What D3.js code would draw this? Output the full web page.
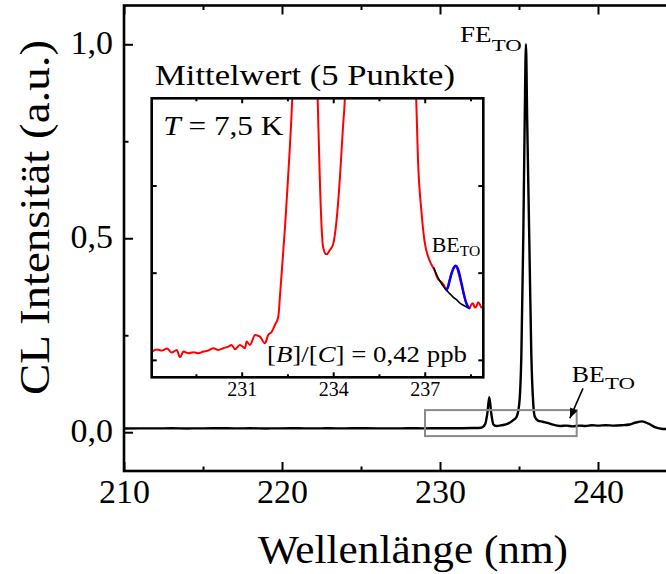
<!DOCTYPE html>
<html>
<head>
<meta charset="utf-8">
<script src="https://cdn.jsdelivr.net/npm/d3@7"></script>
<style>
  body { margin: 0; background: #fff; }
  svg { display: block; }
  text { font-family: "Liberation Serif", "Times New Roman", serif; fill: #000; }
</style>
</head>
<body>
<svg id="chart" width="666" height="574"></svg>
<script>
// ---- CL spectrum (normalised to the FE_TO line) ----
const spectrumNm = [210, 211, 212, 213, 214, 215, 216, 217, 218, 219, 220, 221, 222, 223, 224, 225,
  226, 227, 228, 229, 230, 231, 232, 232.6, 232.85, 233.0, 233.12, 233.24, 233.38, 233.55, 233.9,
  234.3, 234.6, 234.85, 235.02, 235.15, 235.27, 235.36, 235.44, 235.52, 235.65, 235.78, 235.9,
  236.0, 236.2, 236.5, 236.8, 237.1, 237.6, 238.0, 238.4, 238.8, 239.2, 239.6, 240.0, 240.5,
  241.0, 241.5, 242.0, 242.4, 242.8, 243.2, 243.6, 244.0, 244.5, 245.0];
const spectrumIntensity = [0.0095, 0.0100, 0.0098, 0.0102, 0.0097, 0.0100, 0.0103, 0.0099, 0.0101,
  0.0097, 0.0100, 0.0102, 0.0098, 0.0101, 0.0099, 0.0103, 0.0100, 0.0098, 0.0102, 0.0100, 0.0101,
  0.0103, 0.0108, 0.0115, 0.020, 0.050, 0.090, 0.050, 0.020, 0.016, 0.018, 0.022, 0.030, 0.040,
  0.075, 0.20, 0.50, 0.80, 1.00, 0.80, 0.50, 0.20, 0.075, 0.040, 0.030, 0.027, 0.024, 0.020,
  0.016, 0.017, 0.015, 0.017, 0.016, 0.018, 0.017, 0.018, 0.017, 0.018, 0.020, 0.025, 0.028,
  0.022, 0.013, 0.009, 0.008, 0.008];

// ---- averaged spectrum (5 points), detail window ----
const averagedNm = [228.06, 228.22, 228.38, 228.55, 228.71, 228.87, 228.98, 229.09, 229.25, 229.42,
  229.58, 229.74, 229.91, 230.07, 230.23, 230.40, 230.56, 230.67, 230.78, 230.94, 231.11, 231.16,
  231.27, 231.44, 231.60, 231.76, 231.87, 231.98, 232.09, 232.20, 232.26, 232.42, 232.52, 232.64,
  232.72, 232.90, 233.12, 233.32, 233.40, 233.49, 233.56, 233.62, 233.67, 233.78, 233.89, 234.00,
  234.11, 234.22, 234.32, 234.38, 234.46, 234.90, 235.44, 236.10, 236.62, 236.72, 236.78, 236.89,
  236.99, 237.16, 237.32, 237.43, 237.54, 237.62, 237.71, 237.80, 237.87, 237.94, 238.01, 238.08,
  238.14, 238.22, 238.30, 238.38, 238.47, 238.52, 238.58, 238.64, 238.69, 238.75, 238.80, 238.86,
  238.91];
const averagedIntensity = [1.095, 1.12, 1.107, 1.13, 1.084, 1.114, 1.03, 1.095, 1.076, 1.087,
  1.076, 1.095, 1.107, 1.134, 1.114, 1.134, 1.152, 1.171, 1.122, 1.171, 1.134, 1.21,
  1.171, 1.286, 1.266, 1.19, 1.286, 1.32, 1.40, 1.495, 1.76, 2.52, 3.09, 3.86,
  4.6, 9, 30, 9, 5.2, 4.0, 3.09, 2.52, 2.29, 2.21, 2.26, 2.33,
  2.6, 3.09, 3.67, 3.99, 5.0, 20, 800, 20, 5.0, 4.0, 3.29, 2.71,
  2.37, 2.14, 2.03, 1.93, 1.895, 1.86, 1.80, 1.90, 1.99, 2.05, 2.07, 2.03,
  1.95, 1.84, 1.72, 1.64, 1.59, 1.63, 1.65, 1.60, 1.61, 1.66, 1.64, 1.60,
  1.61];

// Gaussian fit of the BE_TO line and its background
const fitNm = [237.71, 237.77, 237.82, 237.88, 237.93, 238.01, 238.07, 238.12, 238.18, 238.23,
  238.30, 238.36, 238.42, 238.47];
const fitIntensity = [1.80, 1.84, 1.91, 1.99, 2.04, 2.08, 2.06, 2.01, 1.92, 1.84,
  1.73, 1.65, 1.61, 1.59];
const backgroundNm = [237.29, 237.40, 237.49, 237.60, 237.71, 237.82, 237.93, 238.04, 238.14,
  238.30, 238.47];
const backgroundIntensity = [2.06, 1.97, 1.91, 1.85, 1.80, 1.76, 1.72, 1.69, 1.655, 1.62, 1.59];

// ---- ticks ----
const mainXTicks = [210, 220, 230, 240];
const mainXMinor = [215, 225, 235];
const mainYTicks = [0, 0.5, 1.0];
const mainYMinor = [0.25, 0.75];
const insetXTicks = [231, 234, 237];
const insetXMinor = [229.5, 232.5, 235.5, 238.5];
const insetYTicks = [1, 2, 3];

// detail window marked in the overview, [nm, nm] x [intensity, intensity]
const zoomWindowNm = [229.05, 238.65];
const zoomWindowIntensity = [-0.01, 0.057];

const svg = d3.select("#chart");
const comma = v => d3.format(".1f")(v).replace(".", ",");
const zip = (a, b) => a.map((v, i) => [v, b[i]]);

// ================= main plot =================
const x = d3.scaleLinear().domain([210, 245]).range([124, 677]);
const y = d3.scaleLinear().domain([-0.1, 1.1]).range([471, 5.5]);

const defs = svg.append("defs");
defs.append("clipPath").attr("id", "mainClip")
  .append("rect").attr("x", 124).attr("y", 5.5).attr("width", 553).attr("height", 465.5);
defs.append("marker").attr("id", "arrowHead")
  .attr("viewBox", "0 0 10 8").attr("refX", 10).attr("refY", 4)
  .attr("markerWidth", 11).attr("markerHeight", 8).attr("markerUnits", "userSpaceOnUse")
  .attr("orient", "auto")
  .append("path").attr("d", "M0,0 L10,4 L0,8 Z").attr("fill", "#000");

function styleAxis(g, fontSize) {
  g.select(".domain").remove();
  g.selectAll(".tick line").attr("stroke", "#000").attr("stroke-width", 2);
  g.selectAll(".tick text").attr("font-size", fontSize).attr("fill", "#000")
    .style("font-family", '"Liberation Serif", serif');
  g.attr("font-family", null);
}

const xAxisB = svg.append("g").attr("transform", "translate(0,471)")
  .call(d3.axisBottom(x).tickValues(mainXTicks).tickSize(-9).tickPadding(8).tickFormat(d3.format("d")));
styleAxis(xAxisB, 34);
const xAxisBm = svg.append("g").attr("transform", "translate(0,471)")
  .call(d3.axisBottom(x).tickValues(mainXMinor).tickSize(-4.5).tickFormat(""));
styleAxis(xAxisBm, 0);
const xAxisT = svg.append("g").attr("transform", "translate(0,5.5)")
  .call(d3.axisTop(x).tickValues(mainXTicks).tickSize(-9).tickFormat(""));
styleAxis(xAxisT, 0);
const xAxisTm = svg.append("g").attr("transform", "translate(0,5.5)")
  .call(d3.axisTop(x).tickValues(mainXMinor).tickSize(-4.5).tickFormat(""));
styleAxis(xAxisTm, 0);

const yAxisL = svg.append("g").attr("transform", "translate(124,0)")
  .call(d3.axisLeft(y).tickValues(mainYTicks).tickSize(-9).tickPadding(11).tickFormat(comma));
styleAxis(yAxisL, 34);
yAxisL.selectAll(".tick text").attr("dy", "0.26em");
const yAxisLm = svg.append("g").attr("transform", "translate(124,0)")
  .call(d3.axisLeft(y).tickValues(mainYMinor).tickSize(-4.5).tickFormat(""));
styleAxis(yAxisLm, 0);

// spectrum
svg.append("path")
  .datum(zip(spectrumNm, spectrumIntensity))
  .attr("clip-path", "url(#mainClip)")
  .attr("fill", "none").attr("stroke", "#000").attr("stroke-width", 2.4)
  .attr("stroke-linejoin", "round")
  .attr("d", d3.line().x(d => x(d[0])).y(d => y(d[1])).curve(d3.curveMonotoneX));

// frame
svg.append("rect").attr("x", 124).attr("y", 5.5).attr("width", 553).attr("height", 465.5)
  .attr("fill", "none").attr("stroke", "#000").attr("stroke-width", 2.6);

// detail window
svg.append("rect")
  .attr("x", x(zoomWindowNm[0])).attr("y", y(zoomWindowIntensity[1]))
  .attr("width", x(zoomWindowNm[1]) - x(zoomWindowNm[0]))
  .attr("height", y(zoomWindowIntensity[0]) - y(zoomWindowIntensity[1]))
  .attr("fill", "none").attr("stroke", "#8a8a8a").attr("stroke-width", 2);

// arrow to the BE_TO line
svg.append("line")
  .attr("x1", x(239.05)).attr("y1", y(0.113))
  .attr("x2", x(238.22)).attr("y2", y(0.036))
  .attr("stroke", "#000").attr("stroke-width", 1.6)
  .attr("marker-end", "url(#arrowHead)");

// helper: text piece stretched to a given width
function piece(parent, str, px, py, size, width) {
  const t = parent.append("text").attr("x", px).attr("y", py)
    .attr("font-size", size).text(str);
  if (width) t.attr("textLength", width).attr("lengthAdjust", "spacingAndGlyphs");
  return t;
}

// peak labels
piece(svg, "FE", 460, 41.7, 23, 31.5);
piece(svg, "TO", 491.7, 50.5, 17, 30);
piece(svg, "BE", 571.7, 381.7, 24, 33);
piece(svg, "TO", 605, 389, 17, 30);

// axis titles
piece(svg, "Wellenlänge (nm)", 258, 563.3, 41, 310);
svg.append("text")
  .attr("transform", "translate(49,217.5) rotate(-90)")
  .attr("text-anchor", "middle")
  .attr("font-size", 42)
  .attr("textLength", 355).attr("lengthAdjust", "spacingAndGlyphs")
  .text("CL Intensität (a.u.)");

// ================= inset =================
const xi = d3.scaleLinear().domain([228.05, 238.92]).range([151.7, 483.3]);
const yi = d3.scaleLinear().domain([0.8, 4.0]).range([377.3, 98.3]);

const inset = svg.append("g");
inset.append("rect").attr("x", 151.7).attr("y", 98.3).attr("width", 331.6).attr("height", 279)
  .attr("fill", "#fff");
defs.append("clipPath").attr("id", "insetClip")
  .append("rect").attr("x", 151.7).attr("y", 98.3).attr("width", 331.6).attr("height", 279);

const iBottom = inset.append("g").attr("transform", "translate(0,377.3)")
  .call(d3.axisBottom(xi).tickValues(insetXTicks).tickSize(-5).tickPadding(5).tickFormat(d3.format("d")));
styleAxis(iBottom, 20);
const iBottomM = inset.append("g").attr("transform", "translate(0,377.3)")
  .call(d3.axisBottom(xi).tickValues(insetXMinor).tickSize(-3).tickFormat(""));
styleAxis(iBottomM, 0);
const iTop = inset.append("g").attr("transform", "translate(0,98.3)")
  .call(d3.axisTop(xi).tickValues(insetXTicks).tickSize(-5).tickFormat(""));
styleAxis(iTop, 0);
const iTopM = inset.append("g").attr("transform", "translate(0,98.3)")
  .call(d3.axisTop(xi).tickValues(insetXMinor).tickSize(-3).tickFormat(""));
styleAxis(iTopM, 0);
const iLeft = inset.append("g").attr("transform", "translate(151.7,0)")
  .call(d3.axisLeft(yi).tickValues(insetYTicks).tickSize(-5).tickFormat(""));
styleAxis(iLeft, 0);
const iRight = inset.append("g").attr("transform", "translate(483.3,0)")
  .call(d3.axisRight(yi).tickValues(insetYTicks).tickSize(-5).tickFormat(""));
styleAxis(iRight, 0);

const iLine = d3.line().x(d => xi(d[0])).y(d => yi(d[1])).curve(d3.curveMonotoneX);
const curves = inset.append("g").attr("clip-path", "url(#insetClip)");
curves.append("path").datum(zip(averagedNm, averagedIntensity))
  .attr("fill", "none").attr("stroke", "#ff0000").attr("stroke-width", 2).attr("d", iLine);
curves.append("path").datum(zip(backgroundNm, backgroundIntensity))
  .attr("fill", "none").attr("stroke", "#000").attr("stroke-width", 1.6).attr("d", iLine);
curves.append("path").datum(zip(fitNm, fitIntensity))
  .attr("fill", "none").attr("stroke", "#0000ff").attr("stroke-width", 2.4).attr("d", iLine);

inset.append("rect").attr("x", 151.7).attr("y", 98.3).attr("width", 331.6).attr("height", 279)
  .attr("fill", "none").attr("stroke", "#000").attr("stroke-width", 2.6);

// inset texts
piece(svg, "Mittelwert (5 Punkte)", 155, 85, 29, 300);

const tLabel = inset.append("text").attr("x", 163.3).attr("y", 135).attr("font-size", 27)
  .attr("textLength", 120).attr("lengthAdjust", "spacingAndGlyphs");
tLabel.append("tspan").attr("font-style", "italic").text("T");
tLabel.append("tspan").text(" = 7,5 K");

const ratio = inset.append("text").attr("x", 267).attr("y", 362).attr("font-size", 24)
  .attr("textLength", 200).attr("lengthAdjust", "spacingAndGlyphs");
ratio.append("tspan").text("[");
ratio.append("tspan").attr("font-style", "italic").text("B");
ratio.append("tspan").text("]/[");
ratio.append("tspan").attr("font-style", "italic").text("C");
ratio.append("tspan").text("] = 0,42 ppb");

piece(inset, "BE", 431.7, 251.7, 20, 28);
piece(inset, "TO", 459.7, 255.5, 14, 20.5);
</script>
</body>
</html>
